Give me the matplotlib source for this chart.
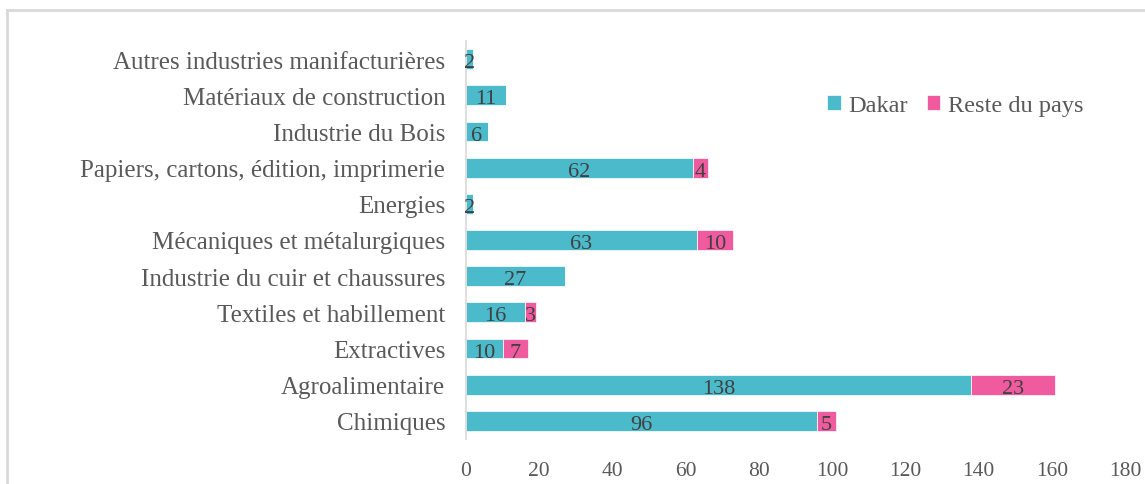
import matplotlib

matplotlib.use("Agg")
import matplotlib.pyplot as plt
import numpy as np

plt.rcParams['font.family'] = ['Liberation Serif', 'DejaVu Serif']

# ========= données =========
categories = [
    'Chimiques',
    'Agroalimentaire',
    'Extractives',
    'Textiles et habillement',
    'Industrie du cuir et chaussures',
    'Mécaniques et métalurgiques',
    'Energies',
    'Papiers, cartons, édition, imprimerie',
    'Industrie du Bois',
    'Matériaux de construction',
    'Autres industries manifacturières',
]
dakar = [96, 138, 10, 16, 27, 63, 2, 62, 6, 11, 2]
reste = [5, 23, 7, 3, 0, 10, 0, 4, 0, 0, 0]
x_ticks = [0, 20, 40, 60, 80, 100, 120, 140, 160, 180]

teal = '#4BBACB'
pink = '#F05A9E'
txt = '#595959'

fig = plt.figure(figsize=(11.45, 4.85), dpi=100)
ax = fig.add_axes([0.407, 0.0928, 0.5755, 0.8206])

y = np.arange(len(categories))
ax.barh(y, dakar, height=0.55, color=teal, edgecolor='white', linewidth=0.5, label='Dakar')
ax.barh(y, reste, left=dakar, height=0.55, color=pink, edgecolor='white', linewidth=0.5,
        label='Reste du pays')

# étiquettes de données
for i in range(len(categories)):
    ax.text(dakar[i] / 2, y[i] - 0.1, str(dakar[i]), ha='center', va='center',
            fontsize=16, color='#404040')
    if reste[i] > 0:
        ax.text(dakar[i] + reste[i] / 2, y[i] - 0.1, str(reste[i]), ha='center', va='center',
                fontsize=16, color='#404040')

ax.set_xlim(0, 180)
ax.set_ylim(-0.5, len(categories) - 0.5)
ax.set_xticks(x_ticks)
ax.set_xticklabels([str(v) for v in x_ticks])
ax.set_yticks(y)
ax.set_yticklabels(categories)
ax.tick_params(axis='both', length=0, colors=txt)
ax.tick_params(axis='x', pad=16, labelsize=15.5)
ax.tick_params(axis='y', pad=15, labelsize=18)

for s in ['top', 'right', 'bottom']:
    ax.spines[s].set_visible(False)
ax.spines['left'].set_color('#D9D9D9')
ax.spines['left'].set_linewidth(1.2)

ax.legend(loc='center left', bbox_to_anchor=(0.53, 0.837), ncol=2, frameon=False,
          fontsize=17.5, handlelength=0.55, handleheight=0.55, handletextpad=0.3,
          columnspacing=0.8, labelcolor=txt, borderpad=0)

# cadre du graphique (haut et gauche visibles)
fig.add_artist(plt.Line2D([7 / 1145, 1], [1 - 11 / 485, 1 - 11 / 485], color='#D9D9D9',
                          linewidth=2, transform=fig.transFigure))
fig.add_artist(plt.Line2D([7 / 1145, 7 / 1145], [0, 1 - 11 / 485], color='#D9D9D9',
                          linewidth=2, transform=fig.transFigure))

plt.savefig('out.png', dpi=100)
plt.close()
